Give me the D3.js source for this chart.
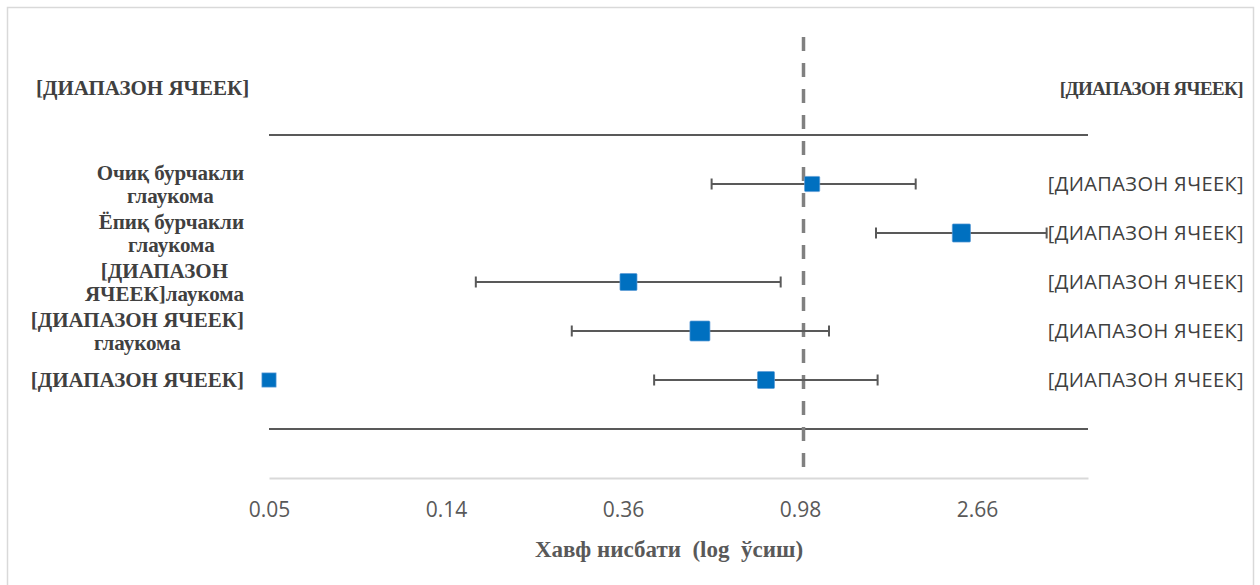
<!DOCTYPE html>
<html>
<head>
<meta charset="utf-8">
<script src="https://cdn.jsdelivr.net/npm/d3@7"></script>
<style>
  body { margin: 0; background: #fff; }
  .serif { font-family: "Liberation Serif", "DejaVu Serif", serif; font-weight: bold; }
  .sans { font-family: "Open Sans", Lato, sans-serif; }
</style>
</head>
<body>
<script>
// данные (читаются с картинки)
const labels = [
  ['Очиқ бурчакли', 'глаукома'],
  ['Ёпиқ бурчакли', 'глаукома'],
  ['[ДИАПАЗОН', 'ЯЧЕЕК]лаукома'],
  ['[ДИАПАЗОН ЯЧЕЕК]', 'глаукома'],
  ['[ДИАПАЗОН ЯЧЕЕК]']
];
const rightLabels = ['[ДИАПАЗОН ЯЧЕЕК]', '[ДИАПАЗОН ЯЧЕЕК]', '[ДИАПАЗОН ЯЧЕЕК]', '[ДИАПАЗОН ЯЧЕЕК]', '[ДИАПАЗОН ЯЧЕЕК]'];
const hr    = [1.05, 2.44, 0.372, 0.557, 0.809];
const lower = [0.595, 1.506, 0.157, 0.270, 0.430];
const upper = [1.885, 3.95, 0.879, 1.155, 1.52];
const weights = [23, 33, 29, 40, 29];
const extraPoint = { row: 4, value: 0.0488, weight: 20 };
const tickValues = [0.0488, 0.1326, 0.3605, 0.98, 2.664];
const tickLabels = ['0.05', '0.14', '0.36', '0.98', '2.66'];
const refValue = 1;
const headerLeft = '[ДИАПАЗОН ЯЧЕЕК]';
const headerRight = '[ДИАПАЗОН ЯЧЕЕК]';
const xTitle = 'Хавф нисбати  (log  ўсиш)';

const W = 1260, H = 585;
const svg = d3.select('body').append('svg')
  .attr('width', W).attr('height', H);

// рамка
svg.append('rect')
  .attr('x', 7.5).attr('y', 7.5)
  .attr('width', 1246).attr('height', 600)
  .attr('fill', 'none').attr('stroke', '#d9d9d9').attr('stroke-width', 1.5);

const x = d3.scaleLog().domain([0.0488, 4.99]).range([269, 1088]);
const y = d3.scalePoint().domain(d3.range(hr.length)).range([184, 380]);
const size = d3.scaleSqrt().domain([0, 40]).range([0, 20]);

// ось
const axis = d3.axisBottom(x).tickValues(tickValues)
  .tickFormat((d, i) => tickLabels[i]).tickSize(0).tickPadding(24);
const gx = svg.append('g').attr('transform', 'translate(0,478)').call(axis);
gx.select('.domain').attr('stroke', '#d9d9d9').attr('stroke-width', 2);
gx.selectAll('text').attr('class', 'sans').attr('font-family', null)
  .style('font-size', '21px').attr('fill', '#595959');

svg.append('text')
  .attr('class', 'serif')
  .attr('x', 669).attr('y', 557)
  .attr('text-anchor', 'middle')
  .style('font-size', '23px')
  .attr('fill', '#595959').style('white-space', 'pre')
  .text(xTitle);

// горизонтальные линии
[135, 429].forEach(yy => {
  svg.append('line')
    .attr('x1', x.range()[0]).attr('x2', x.range()[1])
    .attr('y1', yy).attr('y2', yy)
    .attr('stroke', '#595959').attr('stroke-width', 2);
});

// линия 1
svg.append('line')
  .attr('x1', x(refValue)).attr('x2', x(refValue))
  .attr('y1', 37).attr('y2', 478)
  .attr('stroke', '#808080').attr('stroke-width', 3.5)
  .attr('stroke-dasharray', '14,12');

// доверительные интервалы
const rows = svg.append('g').selectAll('g').data(hr).join('g');
rows.append('line')
  .attr('x1', (d, i) => x(lower[i])).attr('x2', (d, i) => x(upper[i]))
  .attr('y1', (d, i) => y(i)).attr('y2', (d, i) => y(i))
  .attr('stroke', '#595959').attr('stroke-width', 2);
[lower, upper].forEach(arr => {
  rows.append('line')
    .attr('x1', (d, i) => x(arr[i])).attr('x2', (d, i) => x(arr[i]))
    .attr('y1', (d, i) => y(i) - 5.5).attr('y2', (d, i) => y(i) + 5.5)
    .attr('stroke', '#595959').attr('stroke-width', 2);
});
rows.append('rect')
  .attr('x', (d, i) => x(d) - size(weights[i]) / 2)
  .attr('y', (d, i) => y(i) - size(weights[i]) / 2)
  .attr('width', (d, i) => size(weights[i]))
  .attr('height', (d, i) => size(weights[i]))
  .attr('rx', 1)
  .attr('fill', '#0070c0').attr('stroke', '#5b9bd5').attr('stroke-width', 0.7);

const s = size(extraPoint.weight);
svg.append('rect')
  .attr('x', x(extraPoint.value) - s / 2).attr('y', y(extraPoint.row) - s / 2)
  .attr('width', s).attr('height', s)
  .attr('fill', '#0070c0').attr('stroke', '#5b9bd5').attr('stroke-width', 0.7);

// подписи слева
const lineH = 23;
labels.forEach((lines, i) => {
  const g = svg.append('g');
  const t = g.selectAll('text').data(lines).join('text')
    .attr('class', 'serif')
    .attr('y', (d, j) => y(i) + 7 + (j - (lines.length - 1) / 2) * lineH)
    .attr('text-anchor', 'middle')
    .style('font-size', '21px')
    .attr('fill', '#404040')
    .text(d => d);
  const maxW = d3.max(t.nodes(), n => n.getComputedTextLength());
  t.attr('x', 244 - maxW / 2);
});

// подписи справа
svg.append('g').selectAll('text').data(rightLabels).join('text')
  .attr('class', 'sans')
  .attr('x', 1244).attr('y', (d, i) => y(i) + 7)
  .attr('text-anchor', 'end')
  .style('font-size', '20px').style('letter-spacing', '0.4px')
  .attr('fill', '#404040')
  .text(d => d);

// заголовки
svg.append('text')
  .attr('class', 'serif')
  .attr('x', 36).attr('y', 95)
  .style('font-size', '21px')
  .attr('fill', '#404040').text(headerLeft);
svg.append('text')
  .attr('class', 'serif')
  .attr('x', 1243).attr('y', 95)
  .attr('text-anchor', 'end')
  .style('font-size', '19px').style('letter-spacing', '-0.6px')
  .attr('fill', '#404040').text(headerRight);
</script>
</body>
</html>
